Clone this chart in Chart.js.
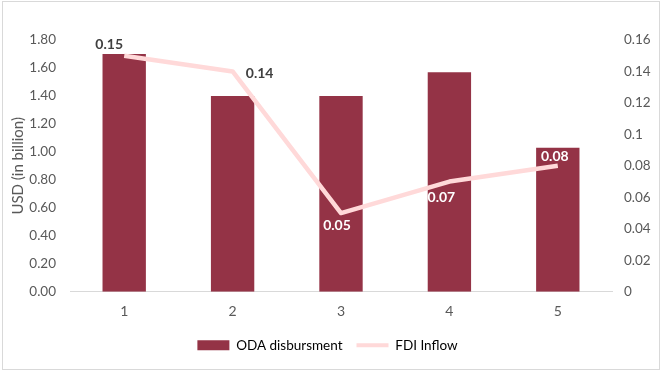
<!DOCTYPE html>
<html>
<head>
<meta charset="utf-8">
<script src="https://cdn.jsdelivr.net/npm/chart.js@4.4.0/dist/chart.umd.min.js"></script>
<style>
  html, body { margin: 0; padding: 0; background: #fff; }
  #wrap { position: absolute; left: 2px; top: 1px; width: 656px; height: 367px; border: 1px solid #d9d9d9; }
</style>
</head>
<body>
<div id="wrap"><canvas id="chart" width="656" height="367"></canvas></div>
<script>
var categories = ['1', '2', '3', '4', '5'];
var odaValues = [1.70, 1.40, 1.40, 1.57, 1.03];
var fdiValues = [0.15, 0.14, 0.05, 0.07, 0.08];
var fdiLabels = ['0.15', '0.14', '0.05', '0.07', '0.08'];

var barColor = '#943346';
var lineColor = '#ffd9d9';
var tickColor = '#595959';
var fontFamily = 'Lato, "Open Sans", sans-serif';

// label offsets from the point, and their colours
var labelStyle = [
    { dx: -15, dy: -11, color: '#404040' },
    { dx: 27, dy: 2, color: '#404040' },
    { dx: -4, dy: 12, color: '#ffffff' },
    { dx: -8, dy: 16, color: '#ffffff' },
    { dx: -3, dy: -9, color: '#ffffff' }
];

var pointLabels = {
    id: 'pointLabels',
    afterDatasetsDraw: function (chart) {
        var ctx = chart.ctx;
        var meta = chart.getDatasetMeta(1);
        ctx.save();
        ctx.font = 'bold 14px ' + fontFamily;
        ctx.textAlign = 'center';
        ctx.textBaseline = 'middle';
        meta.data.forEach(function (pt, i) {
            var s = labelStyle[i];
            ctx.fillStyle = s.color;
            ctx.fillText(fdiLabels[i], pt.x + s.dx, pt.y + s.dy);
        });
        ctx.restore();
    }
};

var ctx = document.getElementById('chart').getContext('2d');
var chart = new Chart(ctx, {
    type: 'bar',
    data: {
        labels: categories,
        datasets: [{
            type: 'bar',
            label: 'ODA disbursment',
            data: odaValues,
            backgroundColor: barColor,
            yAxisID: 'y',
            barPercentage: 0.4,
            categoryPercentage: 1.0,
            order: 2
        }, {
            type: 'line',
            label: 'FDI Inflow',
            data: fdiValues,
            borderColor: lineColor,
            backgroundColor: lineColor,
            borderWidth: 4.5,
            pointRadius: 0,
            borderJoinStyle: 'round',
            yAxisID: 'y1',
            order: 1
        }]
    },
    options: {
        responsive: false,
        animation: false,
        layout: { padding: { left: 0, right: 7, top: 38, bottom: 7 } },
        plugins: {
            tooltip: { enabled: false },
            legend: {
                position: 'bottom',
                labels: {
                    color: tickColor,
                    font: { family: fontFamily, size: 13.5 },
                    usePointStyle: true,
                    pointStyleWidth: 32,
                    boxHeight: 10,
                    padding: 14,
                    generateLabels: function (chart) {
                        return [{
                            text: 'ODA disbursment',
                            fillStyle: barColor,
                            strokeStyle: barColor,
                            lineWidth: 0,
                            pointStyle: 'rect',
                            datasetIndex: 0
                        }, {
                            text: 'FDI Inflow',
                            fillStyle: lineColor,
                            strokeStyle: lineColor,
                            lineWidth: 4,
                            pointStyle: 'line',
                            datasetIndex: 1
                        }];
                    }
                }
            }
        },
        scales: {
            x: {
                grid: { display: false, drawTicks: false },
                border: { display: true, color: '#d9d9d9' },
                ticks: { color: tickColor, font: { family: fontFamily, size: 14 }, padding: 11 },
                afterFit: function (scale) { scale.height -= 6; }
            },
            y: {
                position: 'left',
                min: 0,
                max: 1.8,
                grid: { display: false, drawTicks: false },
                border: { display: false },
                ticks: {
                    stepSize: 0.2,
                    color: tickColor,
                    font: { family: fontFamily, size: 13.5 },
                    padding: 14,
                    callback: function (v) { return v.toFixed(2); }
                },
                title: {
                    display: true,
                    text: 'USD (in billion)',
                    color: tickColor,
                    font: { family: fontFamily, size: 15 },
                    padding: { top: 6, bottom: 0 }
                },
                afterFit: function (scale) { scale.width = 67; }
            },
            y1: {
                position: 'right',
                min: 0,
                max: 0.16,
                grid: { display: false, drawTicks: false },
                border: { display: false },
                ticks: {
                    stepSize: 0.02,
                    color: tickColor,
                    font: { family: fontFamily, size: 13.5 },
                    padding: 12,
                    callback: function (v) { return String(Number(v.toFixed(2))); }
                },
                afterFit: function (scale) { scale.width = 40; }
            }
        }
    },
    plugins: [pointLabels]
});
</script>
</body>
</html>
